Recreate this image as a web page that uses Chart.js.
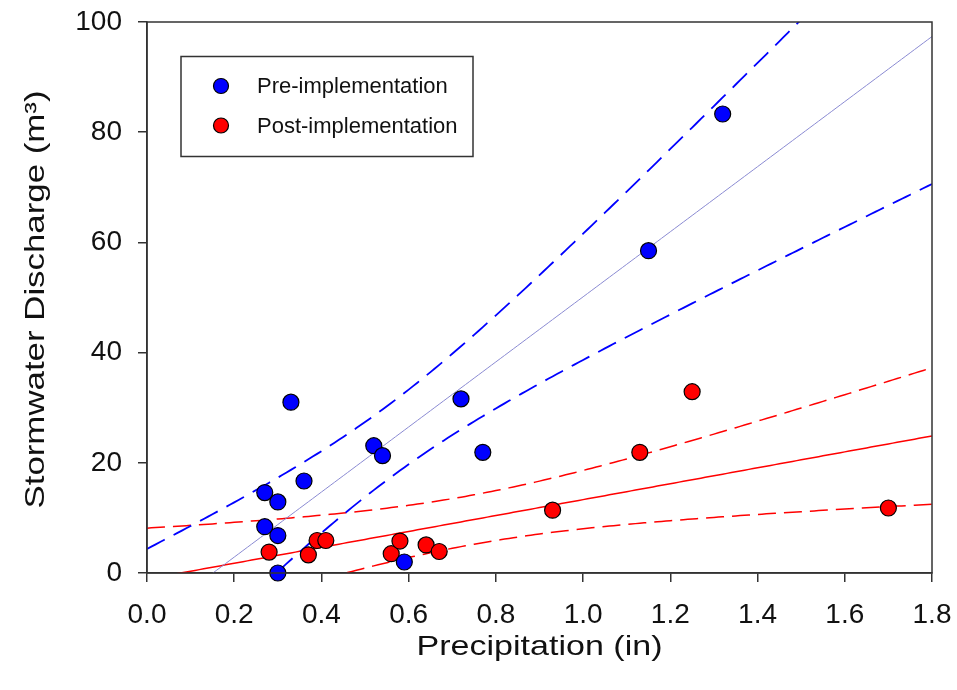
<!DOCTYPE html>
<html>
<head>
<meta charset="utf-8">
<script src="https://cdn.jsdelivr.net/npm/chart.js@4.4.1/dist/chart.umd.min.js"></script>
<style>
  body { margin: 0; background: #fff; }
  #wrap { width: 957px; height: 690px; }
</style>
</head>
<body>
<div id="wrap"><canvas id="grafico" width="957" height="690"></canvas></div>
<script>
// data
var preX  = [0.27, 0.30, 0.27, 0.30, 0.30, 0.33, 0.36, 0.52, 0.54, 0.59, 0.72, 0.77, 1.15, 1.32];
var preY  = [14.6, 12.9, 8.4, 6.8, 0.0, 31.0, 16.7, 23.1, 21.3, 2.0, 31.6, 21.9, 58.5, 83.3];
var postX = [0.28, 0.37, 0.39, 0.41, 0.56, 0.58, 0.64, 0.67, 0.93, 1.13, 1.25, 1.70];
var postY = [3.8, 3.3, 5.9, 5.9, 3.5, 5.8, 5.1, 3.9, 11.4, 21.9, 32.9, 11.8];

var xTicks = [0.0, 0.2, 0.4, 0.6, 0.8, 1.0, 1.2, 1.4, 1.6, 1.8];
var yTicks = [0, 20, 40, 60, 80, 100];
var seriesNames = ["Pre-implementation", "Post-implementation"];

// two-sided 95% t values by degrees of freedom
var tCrit = { 10: 2.228, 12: 2.179 };

function pares(xs, ys) {
  var out = [];
  for (var i = 0; i < xs.length; i++) out.push({ x: xs[i], y: ys[i] });
  return out;
}

// linear regression with 95% confidence band of the mean
function ajuste(xs, ys) {
  var n = xs.length, mx = 0, my = 0, i;
  for (i = 0; i < n; i++) { mx += xs[i]; my += ys[i]; }
  mx /= n; my /= n;
  var sxx = 0, sxy = 0;
  for (i = 0; i < n; i++) { sxx += (xs[i] - mx) * (xs[i] - mx); sxy += (xs[i] - mx) * (ys[i] - my); }
  var b = sxy / sxx, a = my - b * mx, sse = 0;
  for (i = 0; i < n; i++) { var r = ys[i] - (a + b * xs[i]); sse += r * r; }
  var s = Math.sqrt(sse / (n - 2)), t = tCrit[n - 2];
  var linea = [], alta = [], baja = [];
  var x0 = xTicks[0], x1 = xTicks[xTicks.length - 1];
  for (var k = 0; k <= 180; k++) {
    var x = x0 + (x1 - x0) * k / 180;
    var yh = a + b * x;
    var hw = t * s * Math.sqrt(1 / n + (x - mx) * (x - mx) / sxx);
    linea.push({ x: x, y: yh });
    alta.push({ x: x, y: yh + hw });
    baja.push({ x: x, y: yh - hw });
  }
  return { linea: linea, alta: alta, baja: baja };
}

var fitPre = ajuste(preX, preY);
var fitPost = ajuste(postX, postY);

function lineaDS(datos, color, ancho, guion) {
  return {
    type: 'line', data: datos, showLine: true, pointRadius: 0, borderColor: color,
    borderWidth: ancho, borderDash: guion, fill: false, tension: 0, order: 1
  };
}

var marco = {
  id: 'marco',
  afterDraw: function (chart) {
    var ctx = chart.ctx, ca = chart.chartArea;
    ctx.save();
    ctx.strokeStyle = '#333';
    ctx.lineWidth = 1.5;
    ctx.strokeRect(ca.left, ca.top, ca.right - ca.left, ca.bottom - ca.top);

    // legend box
    ctx.strokeRect(181, 56.5, 292, 100);
    var puntos = chart.data.datasets.filter(function (d) { return d.enLeyenda; });
    ctx.font = '22px "Liberation Sans", Arial, sans-serif';
    ctx.textBaseline = 'middle';
    ctx.textAlign = 'left';
    for (var i = 0; i < puntos.length; i++) {
      var y = 86 + i * 39.5;
      ctx.beginPath();
      ctx.arc(221, y, 7.5, 0, Math.PI * 2);
      ctx.fillStyle = puntos[i].backgroundColor;
      ctx.fill();
      ctx.lineWidth = 1.2;
      ctx.strokeStyle = '#000';
      ctx.stroke();
      ctx.fillStyle = '#111';
      ctx.fillText(puntos[i].label, 257, y + 1);
    }

    // axis titles, a bit wider than the plain font
    ctx.fillStyle = '#111';
    ctx.font = '28px "Liberation Sans", Arial, sans-serif';
    ctx.textAlign = 'center';
    ctx.textBaseline = 'alphabetic';
    var tx = 'Precipitation (in)';
    ctx.save();
    ctx.translate((ca.left + ca.right) / 2, 655);
    ctx.scale(246 / ctx.measureText(tx).width, 1);
    ctx.fillText(tx, 0, 0);
    ctx.restore();

    var ty = 'Stormwater Discharge (m\u00B3)';
    ctx.save();
    ctx.translate(44, (ca.top + ca.bottom) / 2 + 2);
    ctx.rotate(-Math.PI / 2);
    ctx.scale(418 / ctx.measureText(ty).width, 1);
    ctx.fillText(ty, 0, 0);
    ctx.restore();
    ctx.restore();
  }
};

new Chart(document.getElementById("grafico"), {
  type: 'scatter',
  data: {
    datasets: [
      {
        label: seriesNames[0], data: pares(preX, preY), enLeyenda: true,
        backgroundColor: '#0000ff', borderColor: '#000', borderWidth: 1.2,
        pointRadius: 8, pointHoverRadius: 8, clip: false, order: 0
      },
      {
        label: seriesNames[1], data: pares(postX, postY), enLeyenda: true,
        backgroundColor: '#ff0000', borderColor: '#000', borderWidth: 1.2,
        pointRadius: 8, pointHoverRadius: 8, clip: false, order: 0
      },
      lineaDS(fitPre.linea, '#8a8ad2', 1, []),
      lineaDS(fitPre.alta, '#0000ff', 1.8, [20, 10]),
      lineaDS(fitPre.baja, '#0000ff', 1.8, [20, 10]),
      lineaDS(fitPost.linea, '#ff0000', 1.5, []),
      lineaDS(fitPost.alta, '#ff0000', 1.5, [18, 8]),
      lineaDS(fitPost.baja, '#ff0000', 1.5, [18, 8])
    ]
  },
  options: {
    responsive: false,
    animation: false,
    devicePixelRatio: 1,
    layout: { padding: { left: 0, top: 22, right: 25, bottom: 0 } },
    plugins: { legend: { display: false }, tooltip: { enabled: false } },
    scales: {
      x: {
        type: 'linear', min: xTicks[0], max: xTicks[xTicks.length - 1],
        afterBuildTicks: function (s) { s.ticks = xTicks.map(function (v) { return { value: v }; }); },
        afterFit: function (s) { s.height = 117; s.paddingLeft = 0; s.paddingRight = 0; },
        ticks: {
          color: '#111', padding: 16, maxRotation: 0,
          font: { family: '"Liberation Sans", Arial, sans-serif', size: 28 },
          callback: function (v) { return v.toFixed(1); }
        },
        grid: { drawOnChartArea: false, tickLength: 9, color: '#333', lineWidth: 1.5 },
        border: { display: true, color: '#333', width: 1.5 }
      },
      y: {
        type: 'linear', min: yTicks[0], max: yTicks[yTicks.length - 1],
        afterBuildTicks: function (s) { s.ticks = yTicks.map(function (v) { return { value: v }; }); },
        afterFit: function (s) { s.width = 147; s.paddingTop = 0; s.paddingBottom = 0; },
        ticks: {
          color: '#111', padding: 16,
          font: { family: '"Liberation Sans", Arial, sans-serif', size: 28 }
        },
        grid: { drawOnChartArea: false, tickLength: 9, color: '#333', lineWidth: 1.5 },
        border: { display: true, color: '#333', width: 1.5 }
      }
    }
  },
  plugins: [marco]
});
</script>
</body>
</html>
